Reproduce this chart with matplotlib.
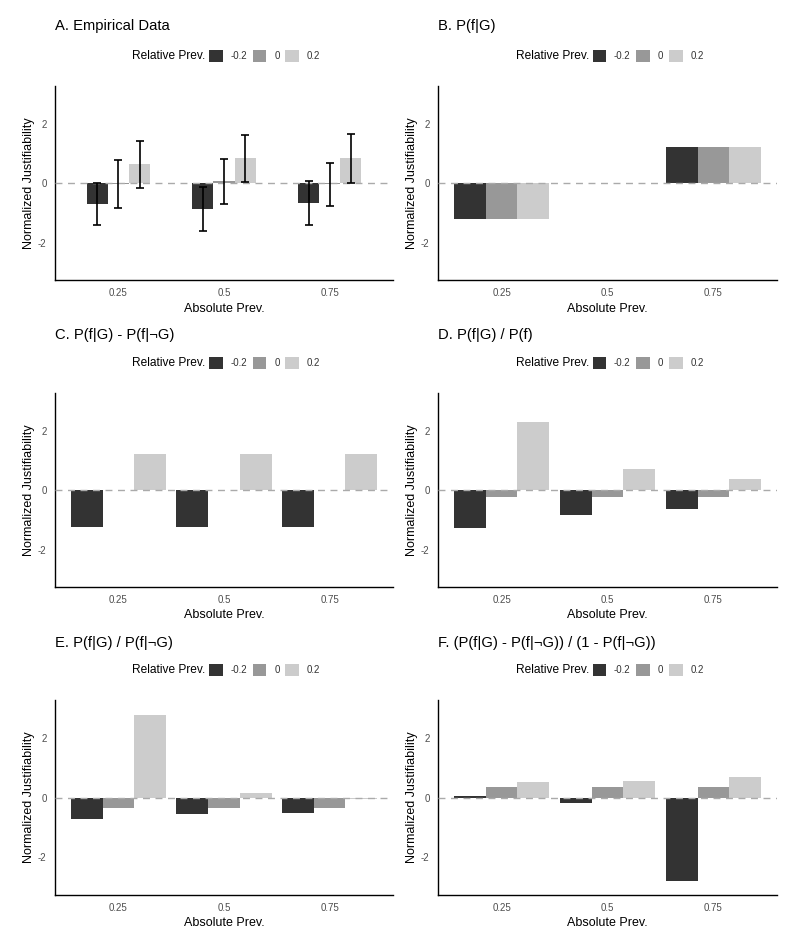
import matplotlib
matplotlib.use("Agg")
import matplotlib.pyplot as plt
from matplotlib.patches import Patch
import numpy as np

plt.rcParams['font.family'] = ['Liberation Sans', 'DejaVu Sans']

abs_prev = ['0.25', '0.5', '0.75']
rel_prev = ['-0.2', '0', '0.2']
colors = ['#333333', '#989898', '#cccccc']

# Panel A: empirical means and error half-widths (rows: rel prev, cols: abs prev)
a_means = [[-0.71, -0.87, -0.68],
           [-0.03, 0.06, -0.04],
           [0.63, 0.83, 0.83]]
a_err = [[0.71, 0.74, 0.74],
         [0.80, 0.76, 0.73],
         [0.79, 0.78, 0.81]]
b_vals = [[-1.21, 0.0, 1.21],
          [-1.21, 0.0, 1.21],
          [-1.21, 0.0, 1.21]]
c_vals = [[-1.23, -1.23, -1.23],
          [0.0, 0.0, 0.0],
          [1.21, 1.21, 1.21]]
d_vals = [[-1.28, -0.84, -0.65],
          [-0.22, -0.22, -0.22],
          [2.29, 0.72, 0.36]]
e_vals = [[-0.70, -0.56, -0.51],
          [-0.34, -0.34, -0.34],
          [2.76, 0.16, -0.06]]
f_vals = [[0.06, -0.17, -2.79],
          [0.34, 0.34, 0.34],
          [0.51, 0.56, 0.69]]

titles = ['A. Empirical Data', 'B. P(f|G)', 'C. P(f|G) - P(f|\u00acG)',
          'D. P(f|G) / P(f)', 'E. P(f|G) / P(f|\u00acG)',
          'F. (P(f|G) - P(f|\u00acG)) / (1 - P(f|\u00acG))']
panel_vals = [a_means, b_vals, c_vals, d_vals, e_vals, f_vals]

W, H = 800, 950
fig = plt.figure(figsize=(W / 100, H / 100), dpi=100)

lefts = [55, 438]
rows = [(86, 280), (393, 587), (700, 895)]
title_y = [26, 335, 643]
legend_y = [56, 363, 670]

for i, vals in enumerate(panel_vals):
    r, c = divmod(i, 2)
    x0 = lefts[c]
    x1 = 393 if c == 0 else 777
    top, bot = rows[r]
    ax = fig.add_axes([x0 / W, 1 - bot / H, (x1 - x0) / W, (bot - top) / H])
    x = np.arange(1, 4)
    w = 0.2 if i == 0 else 0.3
    for k in range(3):
        xs = x + (k - 1) * w
        ax.bar(xs, vals[k], width=w, color=colors[k], zorder=2)
        if i == 0:
            ax.errorbar(xs, vals[k], yerr=a_err[k], fmt='none', ecolor='black',
                        elinewidth=1.2, capsize=3.2, capthick=1.2, zorder=4)
    ax.axhline(0, color='#aaaaaa', lw=1.0, dashes=(5, 4), zorder=3)
    ax.set_xlim(0.4, 3.6)
    ax.set_ylim(-3.26, 3.27)
    ax.set_xticks(x)
    ax.set_xticklabels(abs_prev)
    ax.set_yticks([-2, 0, 2])
    ax.set_yticklabels(['-2', '0', '2'])
    ax.tick_params(length=0, labelsize=7, labelcolor='#4d4d4d', pad=6)
    for s in ['top', 'right']:
        ax.spines[s].set_visible(False)
    for s in ['left', 'bottom']:
        ax.spines[s].set_linewidth(1.0)
        ax.spines[s].set_color('black')
    ax.set_xlabel('Absolute Prev.', fontsize=9, labelpad=3)
    ax.set_ylabel('Normalized Justifiability', fontsize=9, labelpad=2.5)
    fig.text(x0 / W, 1 - title_y[r] / H, titles[i], fontsize=10.6, ha='left', va='center')

    cx = (x0 + x1) / 2
    ly = 1 - legend_y[r] / H
    fig.text((cx - 92) / W, ly, 'Relative Prev.', fontsize=8.6, ha='left', va='center')
    handles = [Patch(facecolor=col) for col in colors]
    leg = fig.legend(handles, rel_prev, ncol=3, loc='center left',
                     bbox_to_anchor=((cx - 15) / W, ly),
                     frameon=False, fontsize=7, handlelength=1.4, handleheight=1.4,
                     handletextpad=0.8, columnspacing=0.6, borderaxespad=0, borderpad=0)
    for t in leg.get_texts():
        t.set_color('#333333')

fig.savefig('out.png', dpi=100, facecolor='white')
